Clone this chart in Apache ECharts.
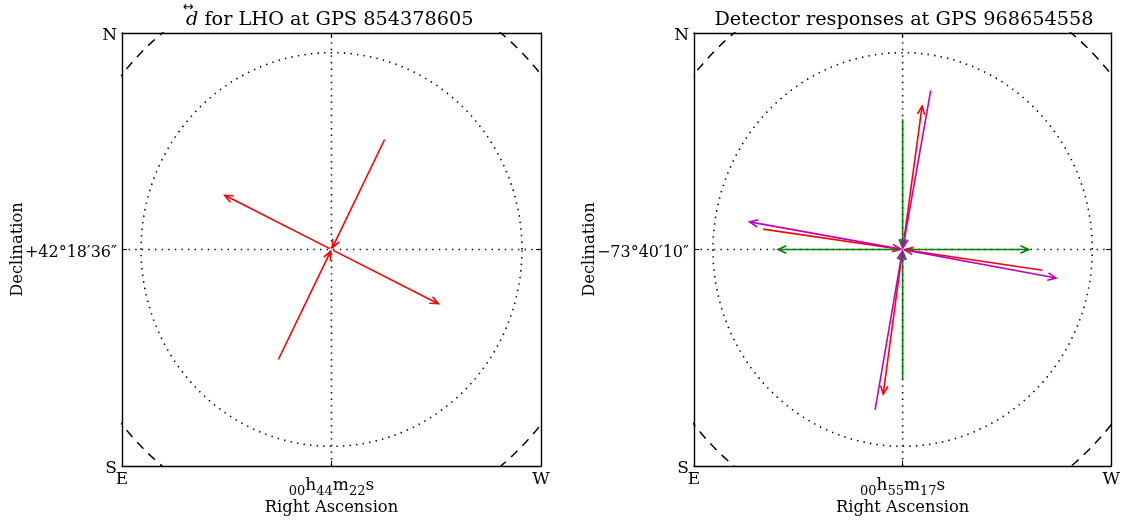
<!DOCTYPE html>
<html><head><meta charset="utf-8">
<script src="https://cdn.jsdelivr.net/npm/echarts@6/dist/echarts.min.js"></script>
<style>html,body{margin:0;padding:0;background:#fff}#c{width:1123px;height:525px}</style>
</head><body><div id="c"></div>
<script>
// ---- data (unit-sphere projected offsets, centre = 0,0) ----
const titles = ['for LHO at GPS 854378605', 'Detector responses at GPS 968654558'];
const decLabels = ['+42°18′36″', '−73°40′10″'];
const raLabels = [['00','44','22'], ['00','55','17']];
// left panel: LHO tensor
const lhoIn  = [[0.2835, 0.568], [-0.2835, -0.568]];
const lhoOut = [[-0.570, 0.280], [0.570, -0.280]];
// right panel: three detectors
const redIn      = [[-0.747, 0.105], [0.747, -0.107]];
const redOut     = [[0.104, 0.738], [-0.104, -0.745]];
const greenIn    = [[0, 0.672], [0, -0.672]];
const greenOut   = [[-0.667, 0], [0.675, 0]];
const magentaIn  = [[0.150, 0.818], [-0.147, -0.825]];
const magentaOut = [[-0.817, 0.142], [0.819, -0.147]];

const LIM = 1.1;
const FONT = 'DejaVu Serif';
const chart = echarts.init(document.getElementById('c'));

function circle(r) {
  const pts = [];
  for (let i = 0; i <= 360; i++) {
    const a = i * Math.PI / 180;
    pts.push([r * Math.cos(a), r * Math.sin(a)]);
  }
  return pts;
}

function arrows(list, inward) {
  return list.map(p => inward ? [p[0], p[1], 0, 0] : [0, 0, p[0], p[1]]);
}

function arrowSeries(gi, data, color) {
  return {
    type: 'custom', xAxisIndex: gi * 2, yAxisIndex: gi * 2, z: 5,
    data: data,
    renderItem: function (params, api) {
      const a = api.coord([api.value(0), api.value(1)]);
      const b = api.coord([api.value(2), api.value(3)]);
      const dx = b[0] - a[0], dy = b[1] - a[1];
      const len = Math.sqrt(dx * dx + dy * dy);
      const ux = dx / len, uy = dy / len;
      const s = 2;
      const p1 = [a[0] + ux * s, a[1] + uy * s];
      const p2 = [b[0] - ux * s, b[1] - uy * s];
      const h = 9, w = 0.42;
      const ang = Math.atan2(uy, ux);
      const l = [p2[0] - h * Math.cos(ang - w), p2[1] - h * Math.sin(ang - w)];
      const r = [p2[0] - h * Math.cos(ang + w), p2[1] - h * Math.sin(ang + w)];
      return {
        type: 'group', children: [
          { type: 'line', shape: { x1: p1[0], y1: p1[1], x2: p2[0], y2: p2[1] },
            style: { stroke: color, lineWidth: 1.6 } },
          { type: 'polyline', shape: { points: [l, p2, r] },
            style: { stroke: color, lineWidth: 1.6, fill: null } }
        ]
      };
    }
  };
}

const grids = [
  { left: 122, top: 33, width: 419, height: 433 },
  { left: 694, top: 33, width: 419, height: 433 }
];

const xAxes = [], yAxes = [], series = [];
grids.forEach((g, gi) => {
  const ra = raLabels[gi];
  const tick = { show: true, inside: true, length: 5, customValues: [0], lineStyle: { color: '#000', width: 1 } };
  const axLine = { show: true, onZero: false, lineStyle: { color: '#000', width: 1.4 } };
  xAxes.push({
    gridIndex: gi, type: 'value', min: -LIM, max: LIM, position: 'bottom',
    axisLine: axLine, axisTick: tick, splitLine: { show: false },
    name: 'Right Ascension', nameLocation: 'middle', nameGap: 34, nameMoveOverlap: false,
    nameTextStyle: { fontFamily: FONT, fontSize: 16.3, color: '#000' },
    axisLabel: {
      show: true, customValues: [-LIM, 0, LIM], margin: 5, color: '#000',
      fontFamily: FONT, fontSize: 16,
      formatter: function (v) {
        if (v < -1) return '{e|E}';
        if (v > 1) return '{e|W}';
        return '{s|' + ra[0] + '}{b|h}{s|' + ra[1] + '}{b|m}{s|' + ra[2] + '}{b|s}';
      },
      rich: {
        e: { fontFamily: FONT, fontSize: 17, color: '#000', lineHeight: 18 },
        b: { fontFamily: FONT, fontSize: 17, color: '#000', lineHeight: 18, padding: [6, 0, 0, 0], verticalAlign: 'top' },
        s: { fontFamily: FONT, fontSize: 13, color: '#000', lineHeight: 27, verticalAlign: 'bottom' }
      }
    }
  });
  xAxes.push({
    gridIndex: gi, type: 'value', min: -LIM, max: LIM, position: 'top',
    axisLine: axLine, axisTick: tick, axisLabel: { show: false }, splitLine: { show: false }
  });
  yAxes.push({
    gridIndex: gi, type: 'value', min: -LIM, max: LIM, position: 'left',
    axisLine: axLine, axisTick: tick, splitLine: { show: false },
    name: 'Declination', nameLocation: 'middle', nameGap: 96, nameMoveOverlap: false,
    nameTextStyle: { fontFamily: FONT, fontSize: 16.3, color: '#000' },
    axisLabel: {
      show: true, customValues: [-LIM, 0, LIM], margin: 5, color: '#000',
      fontFamily: FONT, fontSize: 16, padding: [6, 0, 0, 0],
      formatter: function (v) {
        if (v < -1) return '{c|S}';
        if (v > 1) return '{c|N}';
        return decLabels[gi];
      },
      rich: {
        c: { fontFamily: FONT, fontSize: 17, color: '#000' }
      }
    }
  });
  yAxes.push({
    gridIndex: gi, type: 'value', min: -LIM, max: LIM, position: 'right',
    axisLine: axLine, axisTick: tick, axisLabel: { show: false }, splitLine: { show: false }
  });
  const ax = gi * 2;
  const dotted = { color: '#000', width: 1.6, type: [1.4, 5.2] };
  series.push({ type: 'line', xAxisIndex: ax, yAxisIndex: ax, data: [[0, -LIM], [0, LIM]], symbol: 'none', lineStyle: dotted, silent: true });
  series.push({ type: 'line', xAxisIndex: ax, yAxisIndex: ax, data: [[-LIM, 0], [LIM, 0]], symbol: 'none', lineStyle: dotted, silent: true });
  series.push({ type: 'line', xAxisIndex: ax, yAxisIndex: ax, data: circle(1), symbol: 'none', lineStyle: dotted, silent: true });
  series.push({ type: 'line', xAxisIndex: ax, yAxisIndex: ax, data: circle(Math.SQRT2), symbol: 'none', clip: true,
    lineStyle: { color: '#000', width: 1.5, type: [9, 7] }, silent: true });
});

series.push(arrowSeries(0, arrows(lhoIn, true), '#ff0000'));
series.push(arrowSeries(0, arrows(lhoOut, false), '#ff0000'));
series.push(arrowSeries(1, arrows(redIn, true), '#ff0000'));
series.push(arrowSeries(1, arrows(redOut, false), '#ff0000'));
series.push(arrowSeries(1, arrows(greenIn, true), '#008000'));
series.push(arrowSeries(1, arrows(greenOut, false), '#008000'));
series.push(arrowSeries(1, arrows(magentaIn, true), '#bf00bf'));
series.push(arrowSeries(1, arrows(magentaOut, false), '#bf00bf'));

chart.setOption({
  animation: false,
  backgroundColor: '#fff',
  title: [
    { text: '{d|d} ' + titles[0], left: 181, top: 5, textAlign: 'left',
      textStyle: { fontFamily: FONT, fontSize: 19.3, fontWeight: 'normal', color: '#000',
        rich: { d: { fontFamily: FONT, fontSize: 19.3, fontStyle: 'italic', color: '#000' } } } },
    { text: titles[1], left: 899, top: 5, textAlign: 'center',
      textStyle: { fontFamily: FONT, fontSize: 19.3, fontWeight: 'normal', color: '#000' } }
  ],
  graphic: [
    { type: 'text', left: 183, top: 1, style: { text: '↔', font: '13px "DejaVu Sans"', fill: '#000' } }
  ],
  grid: grids,
  xAxis: xAxes,
  yAxis: yAxes,
  series: series
});
</script></body></html>
